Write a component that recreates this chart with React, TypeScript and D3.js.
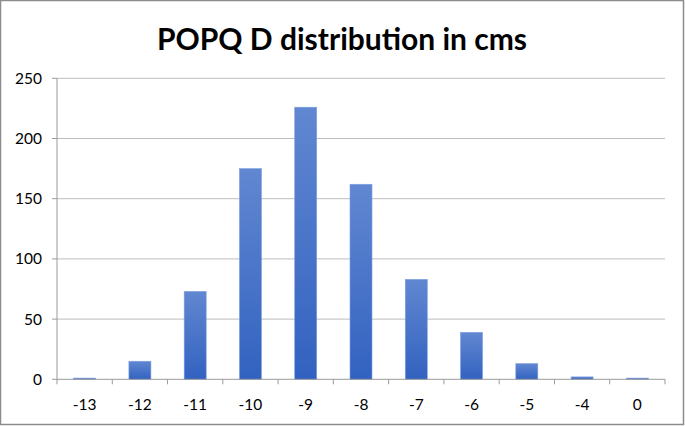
import React from "react";
import * as d3 from "d3";

const categories = ["-13", "-12", "-11", "-10", "-9", "-8", "-7", "-6", "-5", "-4", "0"];
const counts = [1, 15, 73, 175, 226, 162, 83, 39, 13, 2, 1];
const yTicks = [0, 50, 100, 150, 200, 250];
const title = "POPQ D distribution in cms";

const W = 685;
const H = 426;
const left = 57;
const right = 665;
const top = 78.3;
const bottom = 379.3;

export default function App() {
  React.useEffect(() => {
    document.body.style.margin = "0";
  }, []);
  const band = d3.scaleBand<string>().domain(categories).range([left, right]);
  const y = d3.scaleLinear().domain([0, 250]).range([bottom, top]);
  const font = "Lato, 'Open Sans', sans-serif";
  return (
    <svg width={W} height={H} style={{ display: "block" }}>
      <defs>
        <linearGradient id="barGrad" x1="0" y1="0" x2="0" y2="1">
          <stop offset="0%" stopColor="#6187d1" />
          <stop offset="100%" stopColor="#3262c0" />
        </linearGradient>
      </defs>
      <rect x={0.5} y={0.5} width={683} height={424} fill="#fff" stroke="#8c8c8c" strokeWidth={1.5} />
      <text x={342} y={50} textAnchor="middle" fontFamily={font} fontWeight="bold" fontSize={30} fill="#000">
        {title}
      </text>
      {yTicks.map((t) => (
        <g key={t}>
          {t > 0 && <line x1={left} x2={right} y1={y(t)} y2={y(t)} stroke="#bdbdbd" strokeWidth={1} />}
          <line x1={left - 5} x2={left} y1={y(t)} y2={y(t)} stroke="#9a9a9a" />
          <text x={42} y={y(t)} dy="0.35em" textAnchor="end" fontFamily={font} fontSize={15.5} fill="#000">
            {t}
          </text>
        </g>
      ))}
      {categories.map((c, i) => (
        <rect
          key={c}
          x={band(c)! + (band.bandwidth() - 22) / 2}
          y={y(counts[i])}
          width={22}
          height={bottom - y(counts[i])}
          fill="url(#barGrad)"
          stroke="#7d9fe0"
          strokeWidth={0.6}
        />
      ))}
      <line x1={left} x2={left} y1={top} y2={bottom} stroke="#9a9a9a" />
      <line x1={left} x2={right} y1={bottom} y2={bottom} stroke="#9a9a9a" />
      {categories.map((c) => (
        <line key={"t" + c} x1={band(c)!} x2={band(c)!} y1={bottom} y2={bottom + 5} stroke="#9a9a9a" />
      ))}
      <line x1={right} x2={right} y1={bottom} y2={bottom + 5} stroke="#9a9a9a" />
      {categories.map((c) => (
        <text key={"l" + c} x={band(c)! + band.bandwidth() / 2} y={410} textAnchor="middle" fontFamily={font} fontSize={15.5} fill="#000">
          {c}
        </text>
      ))}
    </svg>
  );
}
